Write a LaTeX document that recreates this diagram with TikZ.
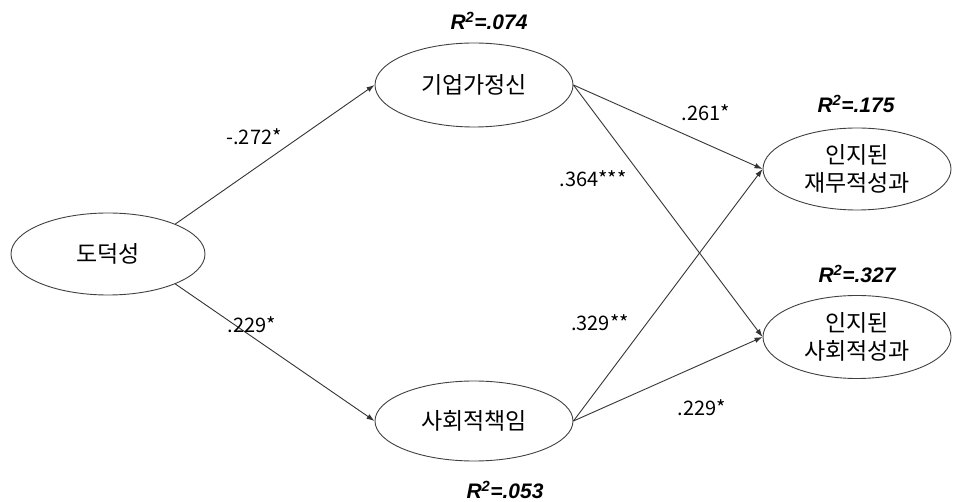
\documentclass[tikz,border=0pt]{standalone}
\usepackage{fontspec}
\setmainfont{Noto Sans CJK KR}
\newfontfamily\rfont{Liberation Sans}
\usetikzlibrary{shapes.geometric,arrows.meta}
\begin{document}
\begin{tikzpicture}[x=1pt,y=-1pt,
  latent/.style={ellipse,draw=black!75,line width=0.9pt,inner sep=0pt,align=center,
    font=\fontsize{23}{28}\selectfont},
  path/.style={draw=black!80,line width=0.9pt,-{Latex[length=8pt,width=5.5pt]}},
  coef/.style={font=\fontsize{20}{22}\selectfont,inner sep=0pt},
  rsq/.style={font=\rfont\fontsize{21}{22}\selectfont\bfseries\itshape,inner sep=0pt}]
\useasboundingbox (0,0) rectangle (953,502);
\node[latent,minimum width=194pt,minimum height=82pt] (dd) at (108,254) {도덕성};
\node[latent,minimum width=198pt,minimum height=84pt] (ent) at (474,85) {기업가정신};
\node[latent,minimum width=198pt,minimum height=80pt] (csr) at (474,421) {사회적책임};
\node[latent,minimum width=188pt,minimum height=82pt] (fin) at (857,169) {인지된\\재무적성과};
\node[latent,minimum width=188pt,minimum height=83pt] (soc) at (857,337) {인지된\\사회적성과};

\draw[path] (dd.24) -- (ent.west);
\draw[path] (dd.-24) -- (csr.west);
\draw[path] (ent.east) -- (fin.west);
\draw[path] (ent.east) -- (soc.west);
\draw[path] (csr.east) -- (fin.west);
\draw[path] (csr.east) -- (soc.west);

\node[coef] (c1) at (254,137) {-.272*};
\node[coef] (c2) at (252,325) {.229*};
\node[coef] (c3) at (706,113) {.261*};
\node[coef] (c4) at (593,179) {.364***};
\node[coef] (c5) at (600,323) {.329**};
\node[coef] (c6) at (702,408) {.229*};

\node[rsq] (r1) at (489,21) {R\textsuperscript{2}=.074};
\node[rsq] (r2) at (856,104) {R\textsuperscript{2}=.175};
\node[rsq] (r3) at (857,274) {R\textsuperscript{2}=.327};
\node[rsq] (r4) at (505,490) {R\textsuperscript{2}=.053};
\end{tikzpicture}
\end{document}
